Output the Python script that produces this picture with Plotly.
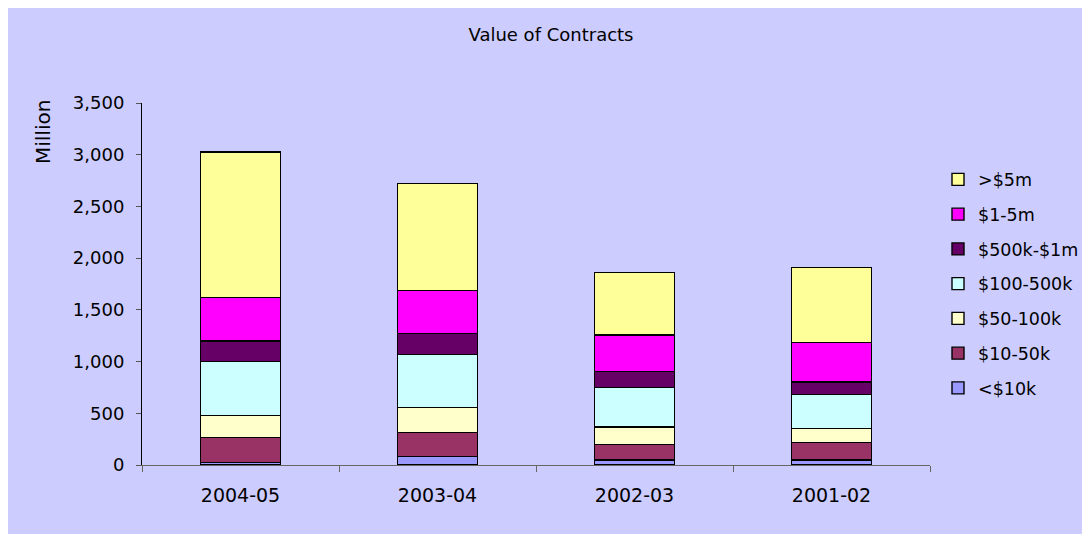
import plotly.graph_objects as go

categories = ["2004-05", "2003-04", "2002-03", "2001-02"]
series_names = ["<$10k", "$10-50k", "$50-100k", "$100-500k", "$500k-$1m", "$1-5m", ">$5m"]
v_lt10k = [25, 84, 48, 48]
v_10_50k = [239, 232, 152, 168]
v_50_100k = [213, 238, 168, 135]
v_100_500k = [522, 517, 384, 333]
v_500k_1m = [201, 203, 151, 119]
v_1_5m = [422, 416, 355, 384]
v_gt5m = [1403, 1029, 603, 723]
series_values = [v_lt10k, v_10_50k, v_50_100k, v_100_500k, v_500k_1m, v_1_5m, v_gt5m]
colors = ["#9999FF", "#993366", "#FFFFCC", "#CCFFFF", "#660066", "#FF00FF", "#FFFF99"]
y_ticks = [0, 500, 1000, 1500, 2000, 2500, 3000, 3500]

FONT = "DejaVu Sans"
L, R, T, B = 134, 168, 95, 77
W, H = 1090, 534
PW, PH = W - L - R, H - T - B

fig = go.Figure()
n = len(series_names)
for i, (name, vals, col) in enumerate(zip(series_names, series_values, colors)):
    fig.add_trace(go.Bar(
        x=categories, y=vals, name=name, legendgroup=name, legendrank=100 + (n - i),
        marker=dict(color=col, line=dict(color="black", width=1.4)),
    ))

fig.update_layout(
    width=W, height=H, autosize=False,
    barmode="stack", bargap=0.594,
    paper_bgcolor="#CCCCFF", plot_bgcolor="#CCCCFF",
    margin=dict(l=L, r=R, t=T, b=B, pad=0),
    font=dict(family=FONT, color="black", size=17),
    title=dict(text="Value of Contracts", x=543 / W, xref="container", xanchor="center",
               y=1 - 27 / H, yref="container", yanchor="middle",
               font=dict(family=FONT, size=18, color="black")),
    showlegend=True,
    legend=dict(traceorder="grouped", tracegroupgap=9,
                x=(930 - L) / PW, xanchor="left", y=1 - (153.5 - T) / PH, yanchor="top",
                bgcolor="rgba(0,0,0,0)", font=dict(family=FONT, size=17.5)),
    xaxis=dict(type="category", range=[-0.5, 3.5], showgrid=False,
               showline=True, linecolor="#666666", linewidth=1,
               ticks="outside", tickson="boundaries", ticklen=6, tickcolor="#666666",
               tickfont=dict(family=FONT, size=19), ticklabelstandoff=13),
    yaxis=dict(range=[0, 3500], tickvals=y_ticks, tickformat=",", showgrid=False,
               zeroline=False, showline=True, linecolor="black", linewidth=1,
               ticks="outside", ticklen=5, tickcolor="#555555",
               tickfont=dict(family=FONT, size=18), ticklabelstandoff=8),
    annotations=[dict(text="Million", textangle=-90, xref="paper", yref="paper",
                      x=(35 - L) / PW, y=1 - (124 - T) / PH, showarrow=False,
                      xanchor="center", yanchor="middle",
                      font=dict(family=FONT, size=20, color="black"))],
)

fig.write_html("out.html")
